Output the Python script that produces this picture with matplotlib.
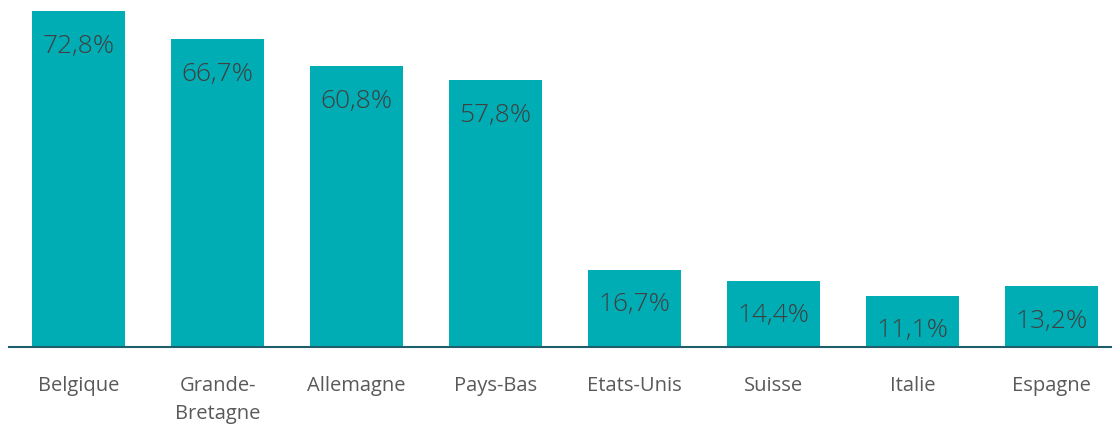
import matplotlib.pyplot as plt

# pays et parts (en %)
pays = ['Belgique', 'Grande-\nBretagne', 'Allemagne', 'Pays-Bas',
        'Etats-Unis', 'Suisse', 'Italie', 'Espagne']
parts = [72.8, 66.7, 60.8, 57.8, 16.7, 14.4, 11.1, 13.2]

plt.rcParams['font.family'] = ['Open Sans', 'DejaVu Sans']

fig = plt.figure(figsize=(11.12, 4.27), dpi=100)
ax = fig.add_axes([9 / 1112, 79 / 427, 1 - 9 / 1112, 347 / 427])

x = range(len(pays))
bars = ax.bar(x, parts, width=0.67, color='#00ADB5')

# valeurs dans le haut des barres
for b, v in zip(bars, parts):
    ax.annotate(f"{v:.1f}%".replace('.', ','),
                (b.get_x() + b.get_width() / 2, b.get_height()),
                xytext=(0, -24.5), textcoords='offset points',
                ha='center', va='center', fontsize=19, color='#404040',
                fontweight='light')

ax.set_xlim(-0.5, 7.435)
ax.set_ylim(0, 75.2)
ax.set_xticks(list(x))
ax.set_xticklabels(pays, fontsize=14.5, color='#595959', linespacing=1.55)
ax.tick_params(axis='x', length=0, pad=20)
ax.set_yticks([])

for s in ['top', 'right', 'left']:
    ax.spines[s].set_visible(False)
ax.spines['bottom'].set_color('#1F5F6B')
ax.spines['bottom'].set_linewidth(1.5)

plt.savefig('out.png', dpi=100)
